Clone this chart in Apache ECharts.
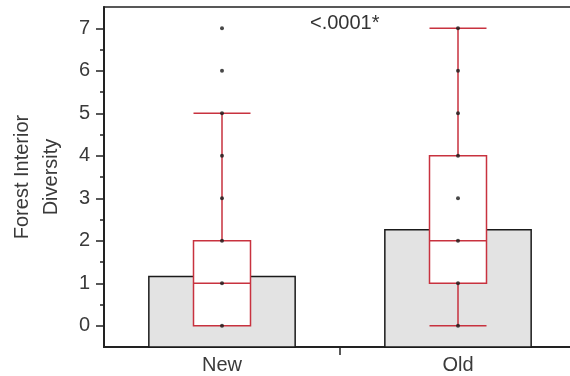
<!DOCTYPE html>
<html>
<head>
<meta charset="utf-8">
<script src="https://cdn.jsdelivr.net/npm/echarts@6/dist/echarts.min.js"></script>
<style>
  html, body { margin: 0; padding: 0; background: #fff; }
  #chart { width: 570px; height: 376px; }
</style>
</head>
<body>
<div id="chart"></div>
<script>
// Groups along the x axis
const categories = ['New', 'Old'];
// Mean diversity per group (grey bars)
const meanValues = [1.16, 2.26];
// Box summaries per group: [lower whisker, Q1, median, Q3, upper whisker]
const boxSummaries = [
  [0, 0, 1, 2, 5],
  [0, 1, 2, 4, 7]
];
// Observed diversity values per group
const newPoints = [0, 1, 2, 3, 4, 5, 6, 7];
const oldPoints = [0, 1, 2, 3, 4, 5, 6, 7];
// Axis ticks
const majorTicks = [0, 1, 2, 3, 4, 5, 6, 7];
const minorTicks = [0.5, 1.5, 2.5, 3.5, 4.5, 5.5, 6.5];
const yMin = -0.5;
const yMax = 7.5;
const pLabel = '<.0001*';

const pointData = []
  .concat(newPoints.map(v => [categories[0], v]))
  .concat(oldPoints.map(v => [categories[1], v]));

const chart = echarts.init(document.getElementById('chart'), null, { renderer: 'canvas' });

const labelFont = 'Liberation Sans, Arial, sans-serif';
const boxRed = '#c8323f';

chart.setOption({
  animation: false,
  grid: {
    left: 104, width: 472, top: 7, bottom: 29,
    outerBoundsMode: 'none',
    show: true, borderColor: '#222', borderWidth: 1.5, backgroundColor: 'transparent'
  },
  xAxis: {
    type: 'category',
    data: categories,
    axisLine: { onZero: false, lineStyle: { color: '#222', width: 2 } },
    axisTick: { show: false },
    axisLabel: { color: '#3a3a3a', fontSize: 20, fontFamily: labelFont, margin: 8 },
    splitLine: { show: false }
  },
  yAxis: [
    {
      type: 'value',
      min: yMin, max: yMax,
      name: 'Forest Interior\nDiversity',
      nameLocation: 'middle',
      nameRotate: 90,
      nameGap: 38,
      nameTextStyle: { color: '#3a3a3a', fontSize: 20, fontFamily: labelFont, lineHeight: 29 },
      axisLine: { show: true, onZero: false, lineStyle: { color: '#222', width: 2 } },
      axisTick: { show: true, length: 8, customValues: majorTicks, lineStyle: { color: '#222', width: 1.5 } },
      axisLabel: { customValues: majorTicks, color: '#3a3a3a', fontSize: 20, fontFamily: labelFont, margin: 14 },
      splitLine: { show: false }
    },
    {
      type: 'value',
      min: yMin, max: yMax,
      position: 'left',
      axisLine: { show: false },
      axisTick: { show: true, length: 4, customValues: minorTicks, lineStyle: { color: '#222', width: 1.5 } },
      axisLabel: { show: false },
      splitLine: { show: false }
    }
  ],
  series: [
    {
      // Mean bars, drawn from the bottom of the value axis up to the mean
      type: 'custom',
      z: 1,
      data: meanValues.map((v, i) => [i, v]),
      renderItem: function (params, api) {
        const idx = api.value(0);
        const top = api.coord([idx, api.value(1)]);
        const base = api.coord([idx, yMin]);
        const band = api.size([1, 0])[0];
        const w = band * 0.62;
        const children = [{
          type: 'rect',
          shape: { x: top[0] - w / 2, y: top[1], width: w, height: base[1] - top[1] },
          style: { fill: '#e3e3e3', stroke: '#1a1a1a', lineWidth: 1.5 }
        }];
        // divider tick below the axis on the left boundary of every group but the first
        if (idx > 0) {
          const x = base[0] - band / 2;
          children.push({
            type: 'line',
            shape: { x1: x, y1: base[1], x2: x, y2: base[1] + 8 },
            style: { stroke: '#222', lineWidth: 1.5 }
          });
        }
        return { type: 'group', children: children };
      }
    },
    {
      type: 'boxplot',
      z: 2,
      data: boxSummaries,
      boxWidth: [57, 57],
      itemStyle: { color: '#ffffff', borderColor: boxRed, borderWidth: 1.5 },
      emphasis: { disabled: true }
    },
    {
      type: 'scatter',
      z: 3,
      data: pointData,
      symbol: 'circle',
      symbolSize: 4,
      itemStyle: { color: '#1a1a1a' }
    }
  ],
  graphic: [
    {
      type: 'text',
      left: 310,
      top: 13,
      style: { text: pLabel, fontSize: 20, fontFamily: labelFont, fill: '#333' }
    }
  ]
});
</script>
</body>
</html>
